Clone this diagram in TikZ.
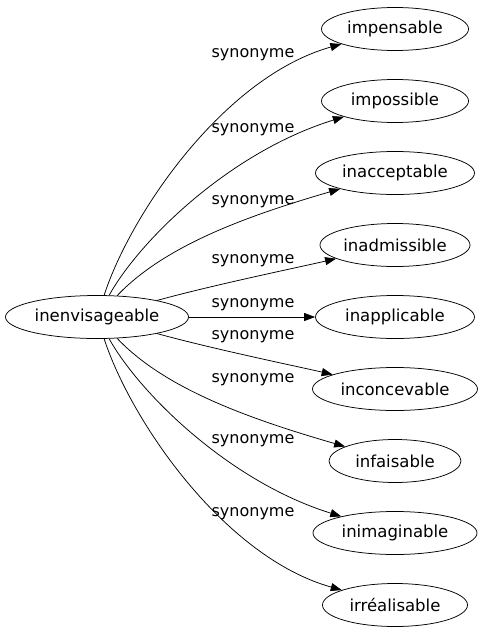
\documentclass[tikz,border=0pt]{standalone}
\usepackage{fontspec}
\setmainfont{DejaVu Sans}
\usetikzlibrary{shapes.geometric, arrows.meta}

\begin{document}
\begin{tikzpicture}[x=1pt, y=-1pt, line width=0.75pt, >={Triangle[length=11pt, width=8pt]},
    word/.style={draw, ellipse, inner sep=0pt, minimum height=43pt, font=\fontsize{16.5}{19}\selectfont},
    rel/.style={inner sep=0pt, font=\fontsize{16}{19}\selectfont}]
    \useasboundingbox (0,0) rectangle (483,635);
    \node[word, minimum width=183pt](S) at (97,317) {inenvisageable};

    \node[word, minimum width=147pt](T_1) at (395,29) {impensable};
    \node[word, minimum width=147pt](T_2) at (395,101) {impossible};
    \node[word, minimum width=159pt](T_3) at (395,173) {inacceptable};
    \node[word, minimum width=150pt](T_4) at (395,245) {inadmissible};
    \node[word, minimum width=159pt](T_5) at (395,317) {inapplicable};
    \node[word, minimum width=165pt](T_6) at (395,389) {inconcevable};
    \node[word, minimum width=132pt](T_7) at (395,461) {infaisable};
    \node[word, minimum width=164pt](T_8) at (395,533) {inimaginable};
    \node[word, minimum width=145pt](T_9) at (395,605) {irréalisable};

    \draw[->] (S) .. controls (131,213) and (224,77) .. (T_1);
    \draw[->] (S) .. controls (140,240) and (230,152) .. (T_2);
    \draw[->] (S) .. controls (165,245) and (250,215) .. (T_3);
    \draw[->] (S) .. controls (213,285) and (300,267) .. (T_4);
    \draw[->] (S) -- (T_5);
    \draw[->] (S) .. controls (213,349) and (300,367) .. (T_6);
    \draw[->] (S) .. controls (165,389) and (250,419) .. (T_7);
    \draw[->] (S) .. controls (140,394) and (230,482) .. (T_8);
    \draw[->] (S) .. controls (131,421) and (224,557) .. (T_9);

    \node[rel](L_1) at (253,55) {synonyme};
    \node[rel](L_2) at (253,130) {synonyme};
    \node[rel](L_3) at (253,202) {synonyme};
    \node[rel](L_4) at (253,261) {synonyme};
    \node[rel](L_5) at (253,305) {synonyme};
    \node[rel](L_6) at (253,337) {synonyme};
    \node[rel](L_7) at (253,380) {synonyme};
    \node[rel](L_8) at (253,441) {synonyme};
    \node[rel](L_9) at (253,514) {synonyme};
\end{tikzpicture}
\end{document}
